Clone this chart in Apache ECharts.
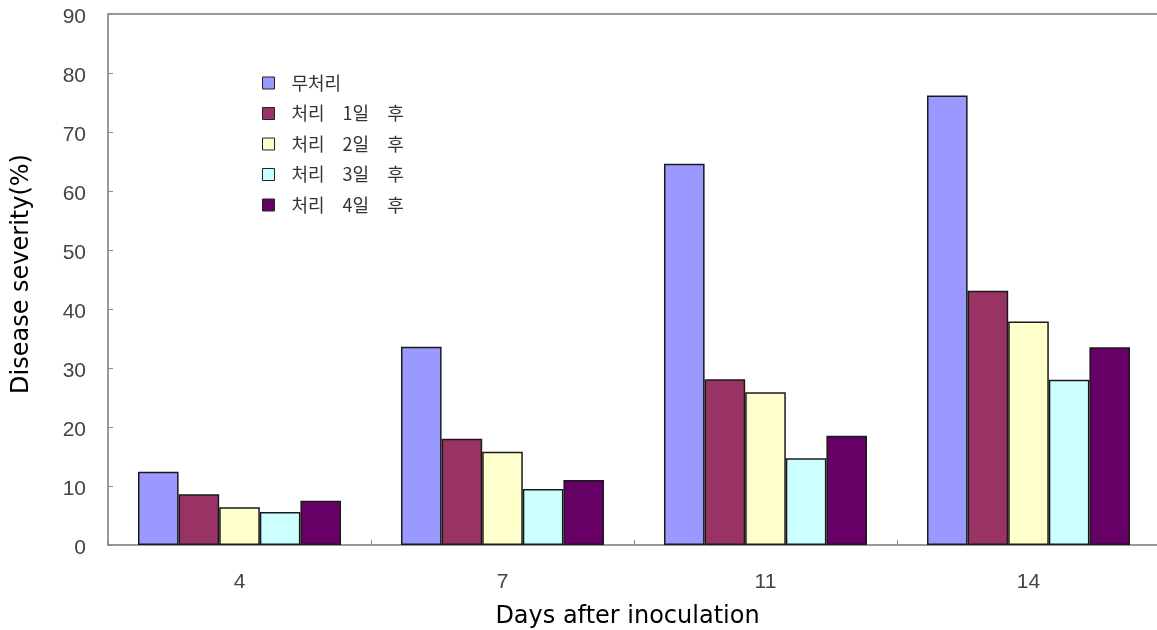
<!DOCTYPE html>
<html>
<head>
<meta charset="utf-8">
<script src="https://cdn.jsdelivr.net/npm/echarts@6/dist/echarts.min.js"></script>
<style>
  html, body { margin: 0; padding: 0; background: #fff; }
  #chart { width: 1157px; height: 630px; }
</style>
</head>
<body>
<div id="chart"></div>
<script>
// Days after inoculation
const days = ['4', '7', '11', '14'];
// Series names (treatment groups)
const seriesNames = ['무처리', '처리 1일 후', '처리 2일 후', '처리 3일 후', '처리 4일 후'];
// Disease severity (%) per group
const untreated = [12.4, 33.6, 64.6, 76.2];
const day1 = [8.6, 18.0, 28.1, 43.1];
const day2 = [6.4, 15.8, 25.9, 37.9];
const day3 = [5.6, 9.5, 14.7, 28.0];
const day4 = [7.5, 11.0, 18.5, 33.5];
const seriesValues = [untreated, day1, day2, day3, day4];
const colors = ['#9999FF', '#993366', '#FFFFCC', '#CCFFFF', '#660066'];

const chart = echarts.init(document.getElementById('chart'));

const series = seriesNames.map((name, i) => ({
  name: name,
  type: 'bar',
  data: seriesValues[i],
  barGap: '0%',
  barCategoryGap: '22.8%',
  itemStyle: { color: colors[i], borderColor: '#1a1a1a', borderWidth: 1.5 },
  emphasis: { disabled: true }
}));

chart.setOption({
  animation: false,
  backgroundColor: '#ffffff',
  grid: { left: 108, right: -3, top: 14, bottom: 85, containLabel: false, outerBoundsMode: 'none' },
  legend: {
    orient: 'vertical',
    left: 257,
    top: 68,
    icon: 'rect',
    itemWidth: 12,
    itemHeight: 12,
    itemGap: 10.5,
    itemStyle: { borderColor: '#222', borderWidth: 1 },
    // wide word spacing in the legend labels
    formatter: name => name.replace(/ /g, '\u2003'),
    textStyle: {
      fontFamily: '"Noto Sans CJK KR", sans-serif',
      fontSize: 18,
      color: '#333',
      lineHeight: 20,
      padding: [0, 0, 0, 12]
    },
    data: seriesNames
  },
  xAxis: [{
    type: 'category',
    data: days,
    name: 'Days after inoculation',
    nameLocation: 'middle',
    nameGap: 60,
    nameTextStyle: { fontFamily: '"DejaVu Sans", sans-serif', fontSize: 24, color: '#000', padding: [0, 13, 0, 0] },
    axisLine: { lineStyle: { color: '#999', width: 2 } },
    axisTick: { show: true, inside: true, length: 5, lineStyle: { color: '#888', width: 1 } },
    axisLabel: { margin: 27, fontFamily: '"Liberation Sans", sans-serif', fontSize: 21, color: '#444' }
  }, {
    type: 'category',
    position: 'top',
    data: days,
    axisLine: { show: true, lineStyle: { color: '#999', width: 2 } },
    axisTick: { show: false },
    axisLabel: { show: false }
  }],
  yAxis: {
    type: 'value',
    min: 0,
    max: 90,
    interval: 10,
    name: 'Disease severity(%)',
    nameLocation: 'middle',
    nameGap: 74,
    nameTextStyle: { fontFamily: '"DejaVu Sans", sans-serif', fontSize: 24, color: '#000', padding: [0, 0, 0, 11] },
    axisLine: { show: true, lineStyle: { color: '#999', width: 2 } },
    axisTick: { show: true, inside: true, length: 5, lineStyle: { color: '#888', width: 1 } },
    splitLine: { show: false },
    axisLabel: { margin: 22, fontFamily: '"Liberation Sans", sans-serif', fontSize: 21, color: '#444', verticalAlign: 'top', lineHeight: 21, padding: [-7, 0, 0, 0] }
  },
  series: series
});
</script>
</body>
</html>
